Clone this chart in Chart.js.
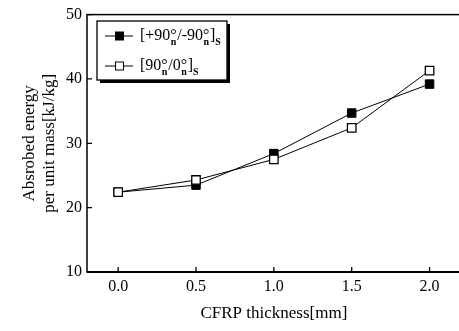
<!DOCTYPE html>
<html>
<head>
<meta charset="utf-8">
<script src="https://cdn.jsdelivr.net/npm/chart.js@4"></script>
<style>
  html, body { margin: 0; padding: 0; background: #fff; overflow: hidden; }
  #wrap { width: 468px; height: 331px; }
</style>
</head>
<body>
<div id="wrap"><canvas id="chart" width="468" height="331"></canvas></div>
<script>
// values
const thickness = [0.0, 0.5, 1.0, 1.5, 2.0];
const energyPlusMinus = [22.4, 23.5, 28.4, 34.7, 39.2];   // [+90n/-90n]s, filled squares
const energyNinetyZero = [22.4, 24.3, 27.5, 32.4, 41.3];  // [90n/0n]s, open squares
const xTicks = [0.0, 0.5, 1.0, 1.5, 2.0];
const yTicks = [10, 20, 30, 40, 50];
const xTitle = "CFRP thickness[mm]";
const yTitle = ["Absrobed energy", "per unit mass[kJ/kg]"];
// legend labels as [text, kind] pieces: kind "n" normal, "sub" subscript
const legendPlusMinus = [["[+90°", "n"], ["n", "sub"], ["/-90°", "n"], ["n", "sub"], ["]", "n"], ["S", "sub"]];
const legendNinetyZero = [["[90°", "n"], ["n", "sub"], ["/0°", "n"], ["n", "sub"], ["]", "n"], ["S", "sub"]];

const serif = "'Liberation Serif', 'DejaVu Serif', serif";

// axes frame with inward ticks, drawn from the chart's own scales
const framePlugin = {
  id: "frame",
  beforeDatasetsDraw(chart) {
    const { ctx, chartArea: a, scales } = chart;
    ctx.save();
    ctx.strokeStyle = "#000";
    ctx.lineWidth = 1.5;
    ctx.strokeRect(a.left, a.top, a.right - a.left, a.bottom - a.top);
    ctx.lineWidth = 2;
    ctx.beginPath();
    ctx.moveTo(a.left, a.bottom);
    ctx.lineTo(a.right, a.bottom);
    ctx.stroke();
    ctx.lineWidth = 1.3;
    ctx.beginPath();
    xTicks.forEach(v => {
      const x = scales.x.getPixelForValue(v);
      ctx.moveTo(x, a.bottom);
      ctx.lineTo(x, a.bottom - 5);
    });
    yTicks.forEach(v => {
      const y = scales.y.getPixelForValue(v);
      ctx.moveTo(a.left, y);
      ctx.lineTo(a.left + 5, y);
    });
    ctx.stroke();
    ctx.restore();
  }
};

function drawPieces(ctx, pieces, x, y) {
  pieces.forEach(([t, kind]) => {
    if (kind === "sub") {
      ctx.font = "bold 10px " + serif;
      const back = t === "S" ? 0 : 6;
      ctx.fillText(t, x - back, y + 6);
      x += ctx.measureText(t).width - back + 1;
    } else {
      ctx.font = "16px " + serif;
      ctx.fillText(t, x, y);
      x += ctx.measureText(t).width;
    }
  });
}

// boxed legend with subscripts, which the built-in legend cannot do
const legendPlugin = {
  id: "boxLegend",
  afterDraw(chart) {
    const { ctx } = chart;
    const bx = 97, by = 21, bw = 130, bh = 59;
    ctx.save();
    ctx.fillStyle = "#000";
    ctx.fillRect(bx + 3, by + 3, bw, bh);
    ctx.fillStyle = "#fff";
    ctx.fillRect(bx, by, bw, bh);
    ctx.strokeStyle = "#000";
    ctx.lineWidth = 1.3;
    ctx.strokeRect(bx, by, bw, bh);
    const rows = [[0, legendPlusMinus, 36], [1, legendNinetyZero, 66]];
    rows.forEach(([i, pieces, y]) => {
      const ds = chart.data.datasets[i];
      ctx.strokeStyle = "#000";
      ctx.lineWidth = 1;
      ctx.beginPath();
      ctx.moveTo(105, y);
      ctx.lineTo(133, y);
      ctx.stroke();
      ctx.fillStyle = ds.pointBackgroundColor;
      ctx.fillRect(115.5, y - 4, 8, 8);
      ctx.strokeRect(115.5, y - 4, 8, 8);
      ctx.fillStyle = "#000";
      ctx.textBaseline = "middle";
      drawPieces(ctx, pieces, 140, y);
    });
    ctx.restore();
  }
};

const ctx = document.getElementById("chart").getContext("2d");
new Chart(ctx, {
  type: "line",
  data: {
    datasets: [
      {
        label: "[+90n/-90n]s",
        data: thickness.map((x, i) => ({ x, y: energyPlusMinus[i] })),
        borderColor: "#000",
        borderWidth: 1,
        pointStyle: "rect",
        pointRadius: 6,
        pointBorderWidth: 1,
        pointBorderColor: "#000",
        pointBackgroundColor: "#000",
        order: 2
      },
      {
        label: "[90n/0n]s",
        data: thickness.map((x, i) => ({ x, y: energyNinetyZero[i] })),
        borderColor: "#000",
        borderWidth: 1,
        pointStyle: "rect",
        pointRadius: 6,
        pointBorderWidth: 1.3,
        pointBorderColor: "#000",
        pointBackgroundColor: "#fff",
        order: 1
      }
    ]
  },
  options: {
    responsive: false,
    animation: false,
    devicePixelRatio: 1,
    layout: { padding: { left: 0, top: 12, right: 2, bottom: 0 } },
    plugins: {
      legend: { display: false },
      tooltip: { enabled: false }
    },
    scales: {
      x: {
        type: "linear",
        min: -0.2,
        max: 2.2,
        afterBuildTicks: scale => { scale.ticks = xTicks.map(v => ({ value: v })); },
        afterFit: scale => { scale.height = 59; },
        grid: { display: false, drawTicks: false },
        border: { display: false },
        ticks: {
          color: "#000",
          font: { family: serif, size: 16 },
          padding: 5,
          maxRotation: 0,
          callback: v => v.toFixed(1)
        },
        title: {
          display: true,
          text: xTitle,
          color: "#000",
          font: { family: serif, size: 17 },
          padding: { top: 4, bottom: 7 }
        }
      },
      y: {
        min: 10,
        max: 50,
        afterBuildTicks: scale => { scale.ticks = yTicks.map(v => ({ value: v })); },
        afterFit: scale => { scale.width = 87; },
        grid: { display: false, drawTicks: false },
        border: { display: false },
        ticks: {
          color: "#000",
          font: { family: serif, size: 16 },
          padding: 5
        },
        title: {
          display: true,
          text: yTitle,
          color: "#000",
          font: { family: serif, size: 17, lineHeight: 1.2 },
          padding: { top: 19 }
        }
      }
    }
  },
  plugins: [framePlugin, legendPlugin]
});
</script>
</body>
</html>
